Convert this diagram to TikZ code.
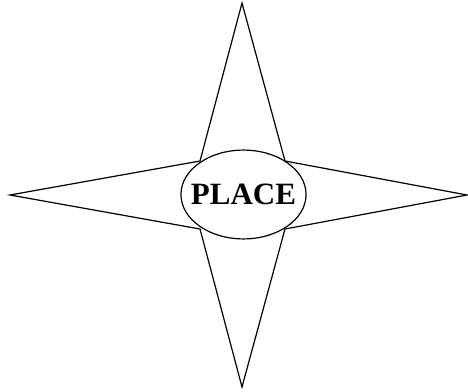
\documentclass[tikz,border=0pt]{standalone}
\usepackage{fontspec}
\setmainfont{Liberation Serif}
\usetikzlibrary{shapes.geometric}

\begin{document}
\begin{tikzpicture}[x=1pt,y=-1pt,line width=1.2pt,line join=miter]
\useasboundingbox (0,0) rectangle (468,391);
\coordinate (top) at (242,3);
\coordinate (bottom) at (242,387);
\coordinate (left) at (10,195);
\coordinate (right) at (467,195);
\coordinate (ul) at (200,161);
\coordinate (ur) at (285,161);
\coordinate (ll) at (200,229);
\coordinate (lr) at (285,229);
\draw (top) -- (ur) -- (right) -- (lr) -- (bottom) -- (ll) -- (left) -- (ul) -- cycle;
\node[draw,fill=white,ellipse,inner xsep=-8.3pt,inner ysep=21pt,
      font=\fontsize{31}{31}\selectfont\bfseries] (place) at (243.5,194.5) {PLACE};
\end{tikzpicture}
\end{document}
